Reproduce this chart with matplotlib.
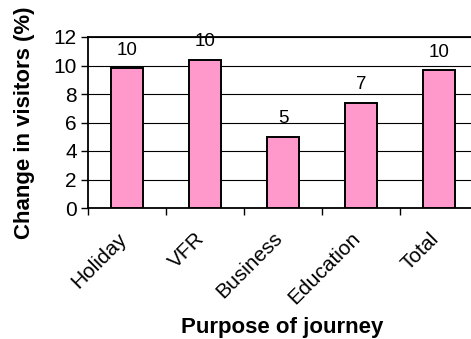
import matplotlib
matplotlib.use("Agg")
import matplotlib.pyplot as plt
import matplotlib.transforms as mtransforms
import numpy as np

plt.rcParams["font.family"] = ["Liberation Sans", "DejaVu Sans"]

# change in visitors by purpose of journey (%)
purposes = ["Holiday", "VFR", "Business", "Education", "Total"]
change_pct = [9.8, 10.4, 5.0, 7.4, 9.65]
y_ticks = [0, 2, 4, 6, 8, 10, 12]

fig = plt.figure(figsize=(4.71, 3.39), dpi=100)
W, H = 471, 339
# plot area runs a little past the right edge of the canvas
ax = fig.add_axes([88 / W, (H - 208) / H, 390 / W, 171 / H])

x = np.arange(len(purposes))
ax.bar(x, change_pct, width=0.41, color="#FF99CC", edgecolor="black",
       linewidth=1.4, zorder=3)

for xi, v in zip(x, change_pct):
    ax.annotate(f"{v:.0f}", (xi, v), xytext=(0, 13), textcoords="offset points",
                ha="center", va="center", fontsize=13.5)

ax.set_xlim(-0.5, len(purposes) - 0.5)
ax.set_ylim(0, 12)
ax.set_yticks(y_ticks)
ax.tick_params(axis="y", labelsize=15, length=5, width=1, direction="out", pad=3)

# tick marks between categories, labels at category centres
ax.set_xticks(np.arange(-0.5, len(purposes)), minor=False)
ax.set_xticklabels([])
ax.set_xticks(x, minor=True)
ax.set_xticklabels(purposes, minor=True, rotation=45, ha="right", va="top",
                   rotation_mode="anchor", fontsize=15)
ax.tick_params(axis="x", which="major", length=5, width=1, direction="out")
ax.tick_params(axis="x", which="minor", length=0, pad=15)
shift = mtransforms.ScaledTranslation(-10 / 100, 0, fig.dpi_scale_trans)
for lbl in ax.get_xticklabels(minor=True):
    lbl.set_transform(lbl.get_transform() + shift)

ax.yaxis.grid(True, color="black", linewidth=0.8, zorder=0)
ax.set_axisbelow(True)
for side in ["left", "bottom", "top"]:
    ax.spines[side].set_linewidth(1.3)
ax.spines["right"].set_visible(False)

ax.set_ylabel("Change in visitors (%)", fontsize=16, fontweight="bold")
ax.yaxis.label.set_verticalalignment("center")
ax.yaxis.set_label_coords(-0.162, 0.5)
ax.set_xlabel("Purpose of journey", fontsize=16, fontweight="bold")
ax.xaxis.label.set_verticalalignment("center")
ax.xaxis.set_label_coords(0.497, -0.696)

fig.savefig("out.png", dpi=100)
